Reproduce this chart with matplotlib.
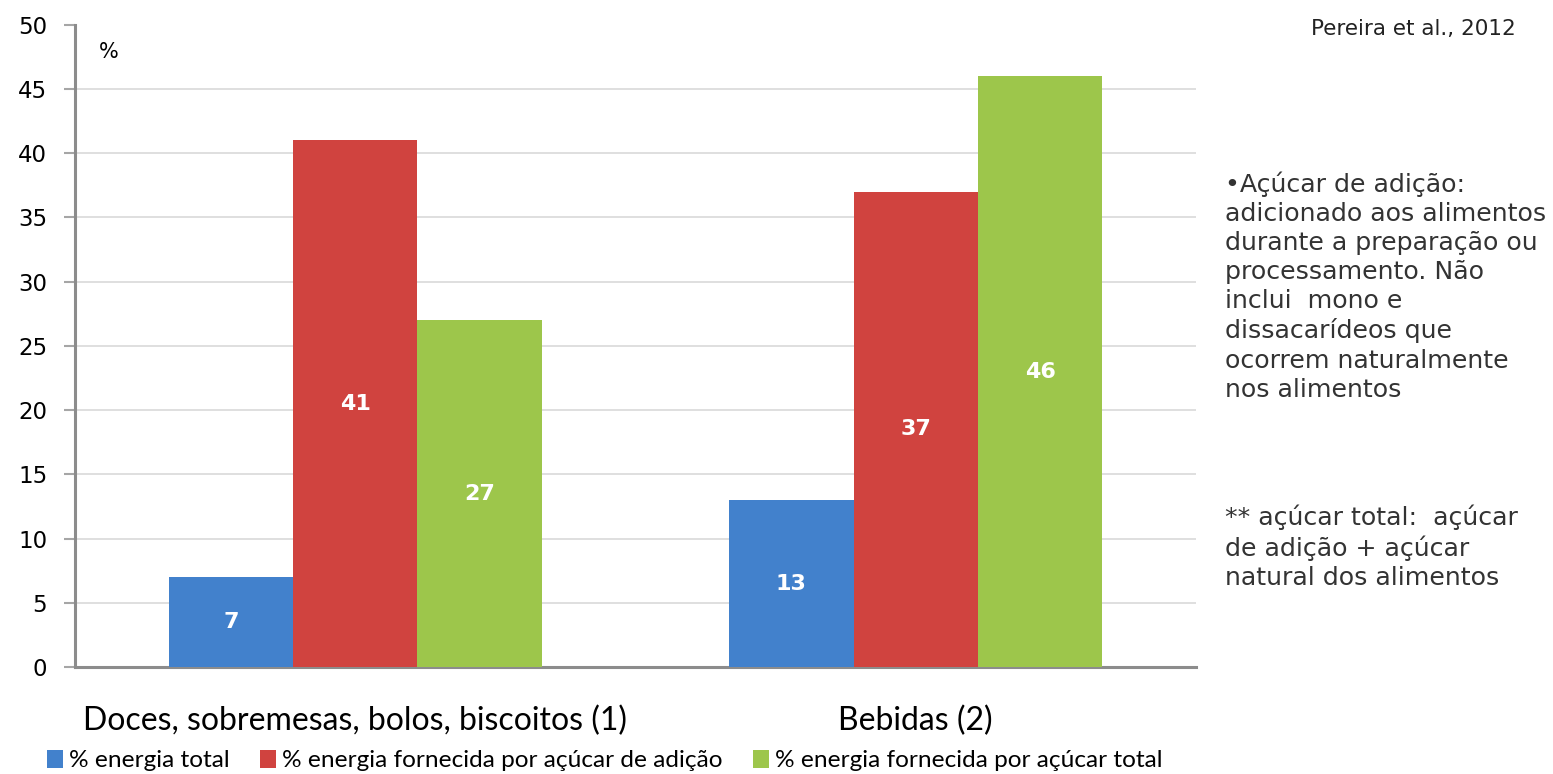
import numpy as np
import matplotlib.pyplot as plt
from matplotlib.patches import Patch

# dados: % da energia por grupo de alimentos
categorias = ['Doces, sobremesas, bolos, biscoitos (1)', 'Bebidas (2)']
series = ['% energia total',
          '% energia fornecida por açúcar de adição',
          '% energia fornecida por açúcar total']
energia_total = [7, 13]
acucar_adicao = [41, 37]
acucar_total = [27, 46]
yticks = [0, 5, 10, 15, 20, 25, 30, 35, 40, 45, 50]

cores = ['#4281cc', '#d0433f', '#9dc64b']
valores = [energia_total, acucar_adicao, acucar_total]

fig = plt.figure(figsize=(15.53, 7.74), dpi=100)
ax = fig.add_axes([0.0483, 0.138, 0.7218, 0.830])

x = np.arange(len(categorias))
w = 0.222
for i, (vals, cor) in enumerate(zip(valores, cores)):
    barras = ax.bar(x + (i - 1) * w, vals, w, color=cor, zorder=3)
    for b, v in zip(barras, vals):
        ax.text(b.get_x() + b.get_width() / 2, v / 2, str(v), ha='center', va='center',
                color='white', fontsize=16, fontweight='bold', family='DejaVu Sans')

ax.set_xlim(-0.5, 1.5)
ax.set_ylim(0, 50)
ax.set_yticks(yticks)
ax.set_yticklabels([str(t) for t in yticks], fontsize=16.5, family='DejaVu Sans')
ax.set_xticks(x)
ax.set_xticklabels(categorias, fontsize=23, family='Lato')
ax.tick_params(axis='x', length=0, pad=28)
ax.tick_params(axis='y', length=8, color='#a6a6a6', width=1.5, pad=12)

ax.grid(axis='y', color='#d9d9d9', lw=1.2, zorder=0)
ax.get_ygridlines()[-1].set_visible(False)
ax.get_ygridlines()[0].set_visible(False)

for s in ['top', 'right']:
    ax.spines[s].set_visible(False)
for s in ['left', 'bottom']:
    ax.spines[s].set_color('#8c8c8c')
    ax.spines[s].set_linewidth(2.2)

ax.text(0.021, 0.957, '%', transform=ax.transAxes, fontsize=15, family='DejaVu Sans', va='center')

handles = [Patch(facecolor=c, edgecolor='none') for c in cores]
fig.legend(handles, series, loc='lower left', bbox_to_anchor=(0.016, -0.025), ncol=3,
           frameon=False, prop={'family': 'Lato', 'size': 17.6},
           handlelength=0.65, handleheight=0.75, handletextpad=0.25, columnspacing=1.25)

fig.text(0.976, 0.962, 'Pereira et al., 2012', ha='right', va='center',
         fontsize=15.5, family='DejaVu Sans', color='#222222')

nota1 = ('•Açúcar de adição:\nadicionado aos alimentos\ndurante a preparação ou\n'
         'processamento. Não\ninclui  mono e\ndissacarídeos que\n'
         'ocorrem naturalmente\nnos alimentos')
nota2 = '** açúcar total:  açúcar\nde adição + açúcar\nnatural dos alimentos'
fig.text(0.789, 0.779, nota1, ha='left', va='top', fontsize=18.2,
         family='DejaVu Sans', color='#333333', linespacing=1.27)
fig.text(0.789, 0.348, nota2, ha='left', va='top', fontsize=18.2,
         family='DejaVu Sans', color='#333333', linespacing=1.27)

fig.savefig('out.png', dpi=100)
